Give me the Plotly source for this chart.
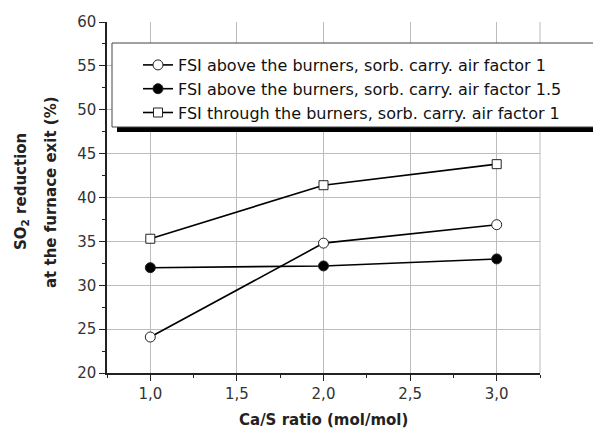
import plotly.graph_objects as go

# Ca/S molar ratio
ca_s = [1.0, 2.0, 3.0]

# SO2 reduction at the furnace exit (%)
above_af1 = [24.1, 34.8, 36.9]
above_af15 = [32.0, 32.2, 33.0]
through_af1 = [35.3, 41.4, 43.8]

series_names = [
    "FSI above the burners, sorb. carry. air factor 1",
    "FSI above the burners, sorb. carry. air factor 1.5",
    "FSI through the burners, sorb. carry. air factor 1",
]

x_ticks = [1.0, 1.5, 2.0, 2.5, 3.0]
y_ticks = [20, 25, 30, 35, 40, 45, 50, 55, 60]

W, H = 593, 432
ML, MR, MT, MB = 107, 53, 22, 59
PW, PH = W - ML - MR, H - MT - MB
FONT = "DejaVu Sans, Liberation Sans, Arial"


def px(xpix):
    return (xpix - ML) / PW


def py(ypix):
    return (H - MB - ypix) / PH


fig = go.Figure()

styles = [
    dict(symbol="circle", color="white", size=10),
    dict(symbol="circle", color="black", size=10),
    dict(symbol="square", color="white", size=9),
]

for name, ys, st in zip(series_names, [above_af1, above_af15, through_af1], styles):
    fig.add_trace(go.Scatter(
        x=ca_s, y=ys, name=name, mode="lines+markers",
        line=dict(color="black", width=1.6),
        marker=dict(symbol=st["symbol"], size=st["size"], color=st["color"],
                    line=dict(color="#222", width=1)),
        cliponaxis=False,
    ))

axis_common = dict(
    showline=True, linecolor="#222", linewidth=1.5,
    ticks="outside", ticklen=6, tickwidth=1.2, tickcolor="#222",
    showgrid=True, gridcolor="#bdbdbd", gridwidth=1,
    zeroline=False, automargin=False,
    tickfont=dict(family=FONT, size=15, color="#333"),
)

fig.update_xaxes(
    range=[0.75, 3.25], tickvals=x_ticks, tickformat=".1f",
    minor=dict(dtick=0.25, tick0=0.75, ticks="outside", ticklen=3, tickcolor="#222", showgrid=False),
    **axis_common,
)
fig.update_yaxes(
    range=[20, 60], tickvals=y_ticks,
    minor=dict(dtick=2.5, tick0=20, ticks="outside", ticklen=3, tickcolor="#222", showgrid=False),
    **axis_common,
)

# right-hand frame edge in grid colour
fig.add_shape(type="line", xref="paper", yref="paper", x0=1, x1=1, y0=0, y1=1,
              line=dict(color="#bdbdbd", width=1))

# legend box with drop shadow
fig.add_shape(type="rect", xref="paper", yref="paper",
              x0=px(117), x1=px(600), y0=py(132), y1=py(47),
              fillcolor="black", line=dict(width=0), layer="above")
fig.add_shape(type="rect", xref="paper", yref="paper",
              x0=px(112), x1=px(600), y0=py(127), y1=py(43),
              fillcolor="white", line=dict(color="#444", width=1), layer="above")

title_font = dict(family=FONT, size=15, color="#222")
fig.add_annotation(text="<b>SO<sub>2</sub> reduction</b>", xref="paper", yref="paper",
                   x=px(21), y=py(192), textangle=-90, showarrow=False,
                   xanchor="center", yanchor="middle", font=title_font)
fig.add_annotation(text="<b>at the furnace exit (%)</b>", xref="paper", yref="paper",
                   x=px(51), y=py(192), textangle=-90, showarrow=False,
                   xanchor="center", yanchor="middle", font=title_font)
fig.add_annotation(text="<b>Ca/S ratio (mol/mol)</b>", xref="paper", yref="paper",
                   x=px(323), y=py(420), showarrow=False,
                   xanchor="center", yanchor="middle", font=title_font)

fig.update_layout(
    width=W, height=H,
    margin=dict(l=ML, r=MR, t=MT, b=MB),
    paper_bgcolor="white", plot_bgcolor="white",
    separators=",.",
    showlegend=True,
    legend=dict(
        x=px(138), y=py(48), xanchor="left", yanchor="top",
        bgcolor="rgba(0,0,0,0)", borderwidth=0,
        font=dict(family=FONT, size=16, color="#111"),
        itemwidth=30, tracegroupgap=0,
    ),
)

fig.write_html("out.html")
